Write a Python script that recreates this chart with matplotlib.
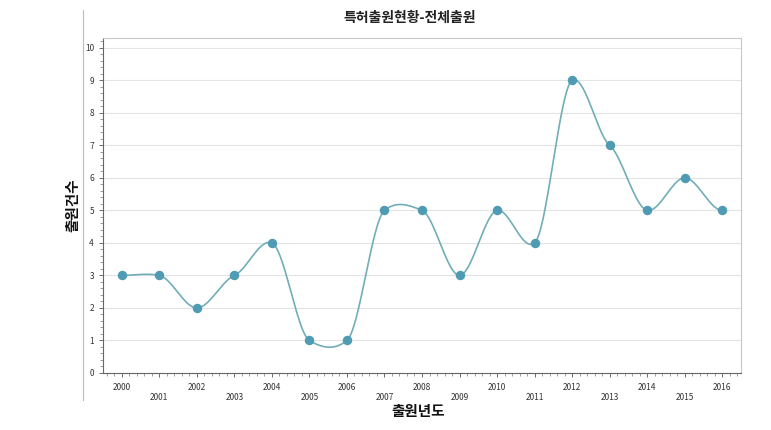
import numpy as np
import matplotlib
matplotlib.use("Agg")
import matplotlib.pyplot as plt
from matplotlib.lines import Line2D
from matplotlib.ticker import MultipleLocator, FixedLocator

plt.rcParams['font.family'] = ['Noto Sans CJK KR', 'DejaVu Sans']

years = [2000, 2001, 2002, 2003, 2004, 2005, 2006, 2007, 2008,
         2009, 2010, 2011, 2012, 2013, 2014, 2015, 2016]
counts = [3, 3, 2, 3, 4, 1, 1, 5, 5, 3, 5, 4, 9, 7, 5, 6, 5]
title = "특허출원현황-전체출원"
xlabel = "출원년도"
ylabel = "출원건수"

def smooth(x, y, k=0.47, n=40):
    x = np.asarray(x, float); y = np.asarray(y, float)
    m = np.zeros_like(y)
    m[1:-1] = k * (y[2:] - y[:-2]) / (x[2:] - x[:-2])
    xs, ys = [], []
    for i in range(len(x) - 1):
        h = x[i + 1] - x[i]
        t = np.linspace(0, 1, n, endpoint=False)
        h00 = 2*t**3 - 3*t**2 + 1
        h10 = t**3 - 2*t**2 + t
        h01 = -2*t**3 + 3*t**2
        h11 = t**3 - t**2
        xs.append(x[i] + t*h)
        ys.append(h00*y[i] + h10*h*m[i] + h01*y[i+1] + h11*h*m[i+1])
    xs.append([x[-1]]); ys.append([y[-1]])
    return np.concatenate(xs), np.concatenate(ys)

fig = plt.figure(figsize=(7.71, 4.30), dpi=100)
ax = fig.add_axes([103/771, 1 - 373/430, (741-103)/771, (373-38)/430])

sx, sy = smooth(years, counts)
ax.plot(sx, sy, color='#72adb8', lw=1.2, zorder=3)
ax.plot(years, counts, 'o', color='#4f9bb3', ms=5.8, zorder=4)

ax.set_xlim(1999.5, 2016.5)
ax.set_ylim(0, 10.3)
ax.yaxis.set_major_locator(FixedLocator(range(0, 11)))
ax.yaxis.set_minor_locator(MultipleLocator(0.2))
ax.xaxis.set_major_locator(FixedLocator(years))
ax.xaxis.set_minor_locator(MultipleLocator(0.2))
labels = [str(y) if i % 2 == 0 else "\n" + str(y) for i, y in enumerate(years)]
ax.set_xticklabels(labels, fontsize=6, color='#333333')
ax.tick_params(axis='y', labelsize=6, colors='#555555', labelcolor='#333333', length=3, width=0.6)
ax.tick_params(axis='x', colors='#555555', labelcolor='#333333', length=3, width=0.6, pad=4)
ax.tick_params(which='minor', length=2, width=0.5, colors='#777777')
for lbl in ax.get_yticklabels():
    lbl.set_fontsize(6)
ax.grid(axis='y', color='#e3e3e3', lw=0.8)
ax.set_axisbelow(True)
for s in ['top', 'right']:
    ax.spines[s].set_color('#c8c8c8'); ax.spines[s].set_linewidth(0.8)
for s in ['left', 'bottom']:
    ax.spines[s].set_color('#666666'); ax.spines[s].set_linewidth(0.8)

fig.text(410/771, 1 - 18/430, title, ha='center', va='center', fontsize=10, weight='bold', color='#222222')
fig.text(418/771, 1 - 411/430, xlabel, ha='center', va='center', fontsize=10.5, weight='bold', color='#111111')
fig.text(72/771, 1 - 205/430, ylabel, ha='center', va='center', fontsize=10.5, weight='bold', rotation=90, color='#111111')

fig.add_artist(Line2D([83/771, 83/771], [1 - 10/430, 1 - 400/430], color='#bbbbbb', lw=0.8))

fig.savefig("out.png", dpi=100, facecolor='white')
